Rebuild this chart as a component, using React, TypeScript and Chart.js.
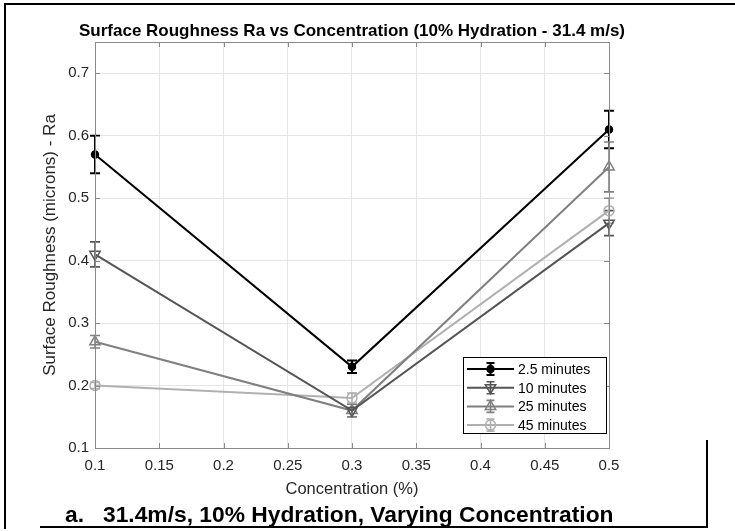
import React, { useEffect, useRef } from 'react';
import { Chart, registerables } from 'chart.js';

Chart.register(...registerables);

// ---- data ----
const concentrations = [0.1, 0.3, 0.5];
const seriesNames = ['2.5 minutes', '10 minutes', '25 minutes', '45 minutes'];
const ra2_5 = [0.57, 0.23, 0.61];
const err2_5 = [0.03, 0.01, 0.03];
const ra10 = [0.41, 0.16, 0.46];
const err10 = [0.02, 0.01, 0.02];
const ra25 = [0.27, 0.16, 0.55];
const err25 = [0.01, 0.01, 0.04];
const ra45 = [0.2, 0.18, 0.48];
const err45 = [0.005, 0.008, 0.02];
const xTickValues = [0.1, 0.15, 0.2, 0.25, 0.3, 0.35, 0.4, 0.45, 0.5];
const yTickValues = [0.1, 0.2, 0.3, 0.4, 0.5, 0.6, 0.7];
const titleText = 'Surface Roughness Ra vs Concentration (10% Hydration - 31.4 m/s)';
const xLabelText = 'Concentration (%)';
const yLabelText = 'Surface Roughness (microns) - Ra';
const captionLetter = 'a.';
const captionText = '31.4m/s, 10% Hydration, Varying Concentration';

// ---- styles ----
const FONT = '"Liberation Sans", Arial, sans-serif';
const seriesValues = [ra2_5, ra10, ra25, ra45];
const seriesErrors = [err2_5, err10, err25, err45];
const seriesColors = ['#000000', '#555555', '#808080', '#b0b0b0'];
const seriesMarkers = [
  { style: 'circle', radius: 3.5, rotation: 0, filled: true },
  { style: 'triangle', radius: 6, rotation: 180, filled: false },
  { style: 'triangle', radius: 6, rotation: 0, filled: false },
  { style: 'circle', radius: 5, rotation: 0, filled: false },
];
const AXIS_COLOR = '#8a8a8a';
const GRID_COLOR = '#e6e6e6';

function drawMarker(ctx: CanvasRenderingContext2D, m: any, x: number, y: number, color: string) {
  ctx.save();
  ctx.strokeStyle = color;
  ctx.fillStyle = color;
  ctx.lineWidth = 1.5;
  ctx.beginPath();
  if (m.style === 'circle') {
    ctx.arc(x, y, m.radius, 0, Math.PI * 2);
  } else {
    const rad = (m.rotation * Math.PI) / 180;
    const r = m.radius;
    for (let k = 0; k < 3; k++) {
      const a = rad + (k * 2 * Math.PI) / 3;
      const px = x + Math.sin(a) * r;
      const py = y - Math.cos(a) * r;
      if (k === 0) ctx.moveTo(px, py);
      else ctx.lineTo(px, py);
    }
    ctx.closePath();
  }
  if (m.filled) ctx.fill();
  ctx.stroke();
  ctx.restore();
}

const decorPlugin = {
  id: 'decor',
  beforeDatasetsDraw(chart: any) {
    const { ctx, scales } = chart;
    const xs = scales.x;
    const ys = scales.y;
    seriesValues.forEach((vals, i) => {
      ctx.save();
      ctx.strokeStyle = seriesColors[i];
      ctx.lineWidth = i === 0 ? 2 : 1.6;
      vals.forEach((v, j) => {
        const px = xs.getPixelForValue(concentrations[j]);
        const top = ys.getPixelForValue(v + seriesErrors[i][j]);
        const bot = ys.getPixelForValue(v - seriesErrors[i][j]);
        ctx.beginPath();
        ctx.moveTo(px, top);
        ctx.lineTo(px, bot);
        ctx.moveTo(px - 5, top);
        ctx.lineTo(px + 5, top);
        ctx.moveTo(px - 5, bot);
        ctx.lineTo(px + 5, bot);
        ctx.stroke();
      });
      ctx.restore();
    });
  },
  afterDatasetsDraw(chart: any) {
    const { ctx, chartArea: ca, scales } = chart;
    const xs = scales.x;
    const ys = scales.y;
    ctx.save();
    // axis box
    ctx.strokeStyle = AXIS_COLOR;
    ctx.lineWidth = 1;
    ctx.strokeRect(Math.round(ca.left) + 0.5, Math.round(ca.top) + 0.5, Math.round(ca.right - ca.left), Math.round(ca.bottom - ca.top));
    // inward ticks
    ctx.beginPath();
    xTickValues.forEach((v) => {
      const px = Math.round(xs.getPixelForValue(v)) + 0.5;
      ctx.moveTo(px, ca.bottom);
      ctx.lineTo(px, ca.bottom - 5);
      ctx.moveTo(px, ca.top);
      ctx.lineTo(px, ca.top + 5);
    });
    yTickValues.forEach((v) => {
      const py = Math.round(ys.getPixelForValue(v)) + 0.5;
      ctx.moveTo(ca.left, py);
      ctx.lineTo(ca.left + 5, py);
      ctx.moveTo(ca.right, py);
      ctx.lineTo(ca.right - 5, py);
    });
    ctx.stroke();

    // legend
    const lx = 463.5, ly = 357.5, lw = 143, lh = 76;
    ctx.fillStyle = '#ffffff';
    ctx.fillRect(lx, ly, lw, lh);
    ctx.strokeStyle = '#000000';
    ctx.lineWidth = 1;
    ctx.strokeRect(lx, ly, lw, lh);
    ctx.font = `14px ${FONT}`;
    ctx.textBaseline = 'middle';
    ctx.textAlign = 'left';
    seriesNames.forEach((name, i) => {
      const cy = 369 + i * 18.7;
      const col = seriesColors[i];
      ctx.strokeStyle = col;
      ctx.lineWidth = 2;
      ctx.beginPath();
      ctx.moveTo(467, cy);
      ctx.lineTo(514, cy);
      ctx.stroke();
      ctx.lineWidth = i === 0 ? 2 : 1.6;
      ctx.beginPath();
      ctx.moveTo(490.5, cy - 6);
      ctx.lineTo(490.5, cy + 6);
      ctx.moveTo(486.5, cy - 6);
      ctx.lineTo(494.5, cy - 6);
      ctx.moveTo(486.5, cy + 6);
      ctx.lineTo(494.5, cy + 6);
      ctx.stroke();
      drawMarker(ctx, seriesMarkers[i], 490.5, cy, col);
      ctx.fillStyle = '#000000';
      ctx.fillText(name, 518, cy + 1);
    });
    ctx.restore();
  },
  afterDraw(chart: any) {
    const { ctx, chartArea: ca } = chart;
    const cx = (ca.left + ca.right) / 2;
    const cy = (ca.top + ca.bottom) / 2;
    ctx.save();
    ctx.fillStyle = '#000000';
    ctx.textAlign = 'center';
    ctx.textBaseline = 'middle';
    ctx.font = `bold 17px ${FONT}`;
    ctx.fillText(titleText, cx, 31);
    ctx.fillStyle = '#262626';
    ctx.font = `16.5px ${FONT}`;
    ctx.fillText(xLabelText, cx, 489);
    ctx.translate(50, cy);
    ctx.rotate(-Math.PI / 2);
    ctx.font = `17px ${FONT}`;
    ctx.fillText(yLabelText, 0, 0);
    ctx.restore();
  },
};

export default function App() {
  const canvasRef = useRef<HTMLCanvasElement | null>(null);

  useEffect(() => {
    const canvas = canvasRef.current;
    if (!canvas) return;
    const datasets = seriesValues.map((vals, i) => ({
      label: seriesNames[i],
      data: vals.map((v, j) => ({ x: concentrations[j], y: v })),
      borderColor: seriesColors[i],
      backgroundColor: seriesMarkers[i].filled ? seriesColors[i] : 'rgba(0,0,0,0)',
      borderWidth: 2,
      pointStyle: seriesMarkers[i].style,
      pointRadius: seriesMarkers[i].radius,
      pointRotation: seriesMarkers[i].rotation,
      pointBorderWidth: 1.5,
      pointBorderColor: seriesColors[i],
      pointBackgroundColor: seriesMarkers[i].filled ? seriesColors[i] : 'rgba(0,0,0,0)',
      tension: 0,
      showLine: true,
      fill: false,
      clip: false,
    }));
    const chart = new Chart(canvas, {
      type: 'line',
      data: { datasets },
      plugins: [decorPlugin],
      options: {
        responsive: false,
        animation: false,
        devicePixelRatio: 1,
        layout: { padding: { top: 42, left: 45, right: 126, bottom: 38 } },
        plugins: {
          legend: { display: false },
          tooltip: { enabled: false },
          title: { display: false },
        },
        scales: {
          x: {
            type: 'linear',
            min: 0.1,
            max: 0.5,
            afterBuildTicks: (s: any) => {
              s.ticks = xTickValues.map((v) => ({ value: v }));
            },
            afterFit: (s: any) => {
              s.height = 45;
            },
            grid: { color: GRID_COLOR, drawTicks: false },
            border: { display: false },
            ticks: {
              padding: 9,
              color: '#262626',
              font: { family: FONT, size: 15 },
              maxRotation: 0,
              autoSkip: false,
              callback: (v: any) => String(Number(Number(v).toFixed(2))),
            },
          },
          y: {
            type: 'linear',
            min: 0.1,
            max: 0.75,
            afterBuildTicks: (s: any) => {
              s.ticks = yTickValues.map((v) => ({ value: v }));
            },
            afterFit: (s: any) => {
              s.width = 50;
            },
            grid: { color: GRID_COLOR, drawTicks: false },
            border: { display: false },
            ticks: {
              padding: 6,
              color: '#262626',
              font: { family: FONT, size: 15 },
              autoSkip: false,
              callback: (v: any) => String(Number(Number(v).toFixed(2))),
            },
          },
        },
      },
    } as any);
    return () => chart.destroy();
  }, []);

  const line = (style: React.CSSProperties) => (
    <div style={{ position: 'absolute', background: '#000', ...style }} />
  );

  return (
    <div style={{ position: 'absolute', left: 0, top: 0, width: 735, height: 531, background: '#fff', overflow: 'hidden' }}>
      <canvas ref={canvasRef} width={735} height={531} style={{ position: 'absolute', left: 0, top: 0, width: 735, height: 531 }} />
      {line({ left: 4, top: 3, width: 731, height: 2 })}
      {line({ left: 4, top: 3, width: 2, height: 526 })}
      {line({ left: 40, top: 526, width: 667, height: 2 })}
      {line({ left: 706, top: 440, width: 2, height: 88 })}
      <div style={{ position: 'absolute', left: 65, top: 503, fontFamily: FONT, fontWeight: 'bold', fontSize: 22.8, lineHeight: '23px', color: '#000', whiteSpace: 'nowrap' }}>
        {captionLetter}
      </div>
      <div style={{ position: 'absolute', left: 103, top: 503, fontFamily: FONT, fontWeight: 'bold', fontSize: 22.8, lineHeight: '23px', color: '#000', whiteSpace: 'nowrap' }}>
        {captionText}
      </div>
    </div>
  );
}
